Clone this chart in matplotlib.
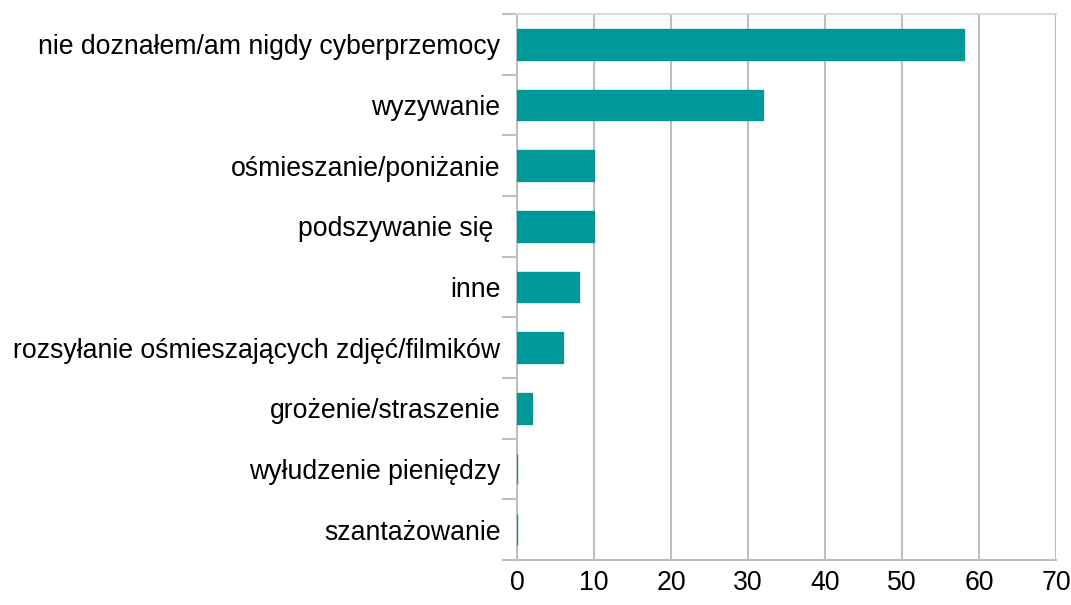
import matplotlib.pyplot as plt
import numpy as np

plt.rcParams['font.family'] = ['Liberation Sans', 'DejaVu Sans']

# categories from top to bottom
categories = ['nie doznałem/am nigdy cyberprzemocy', 'wyzywanie', 'ośmieszanie/poniżanie',
              'podszywanie się ', 'inne', 'rozsyłanie ośmieszających zdjęć/filmików',
              'grożenie/straszenie', 'wyłudzenie pieniędzy', 'szantażowanie']
values = [58, 32, 10, 10, 8, 6, 2, 0, 0]
x_ticks = [0, 10, 20, 30, 40, 50, 60, 70]

bar_color = '#009999'
grid_color = '#bfbfbf'

fig = plt.figure(figsize=(10.71, 6.05), dpi=100)
ax = fig.add_axes([517 / 1071, 45 / 605, 539 / 1071, 546 / 605])

n = len(categories)
ypos = np.arange(n)[::-1]
ax.barh(ypos, values, height=0.51, color=bar_color, edgecolor=bar_color,
        linewidth=1.0, zorder=3)

ax.set_xlim(0, 70)
ax.set_ylim(-0.5, n - 0.5)
ax.set_xticks(x_ticks)
ax.set_xticklabels([str(t) for t in x_ticks])
ax.tick_params(axis='x', length=0, pad=7, labelsize=19.2)
ax.xaxis.grid(True, color=grid_color, linewidth=1.5, zorder=0)

# separator ticks at boundaries, category labels at centres
ax.set_yticks(np.arange(n + 1) - 0.5)
ax.set_yticklabels([])
ax.tick_params(axis='y', which='major', length=11, width=1.5, color=grid_color)
ax.set_yticks(ypos, minor=True)
ax.set_yticklabels(categories, minor=True)
ax.tick_params(axis='y', which='minor', length=0, pad=12, labelsize=19.2)

ax.spines['right'].set_visible(False)
ax.spines['top'].set_color('#d9d9d9')
ax.spines['top'].set_linewidth(1.5)
for side in ['left', 'bottom']:
    ax.spines[side].set_color(grid_color)
    ax.spines[side].set_linewidth(1.5)
    ax.spines[side].set_zorder(2)

fig.savefig('out.png', dpi=100)
